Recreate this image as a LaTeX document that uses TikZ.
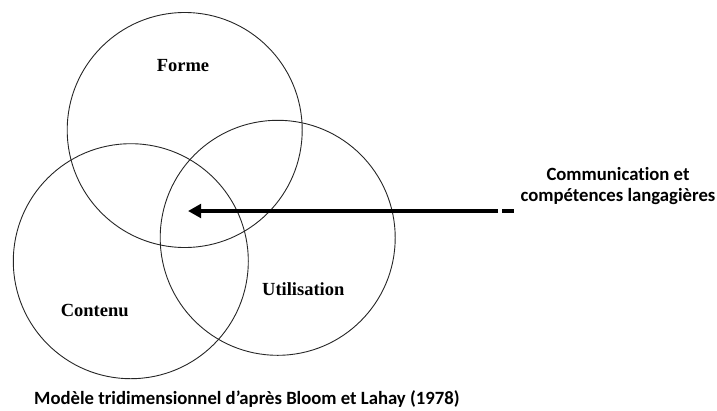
\documentclass[tikz,border=0pt]{standalone}
\usepackage{fontspec}
\setmainfont{Liberation Serif}
\newfontfamily\calib[Ligatures=NoCommon]{Carlito}
\usetikzlibrary{arrows.meta}
\begin{document}
\begin{tikzpicture}[x=1pt,y=-1pt,
  ring/.style={draw=black!85,line width=0.9pt,circle,minimum size=235pt,inner sep=0pt},
  lbl/.style={font=\fontsize{18.5}{22}\selectfont\bfseries,anchor=base,inner sep=0pt},
  side/.style={font=\calib\fontsize{18.7}{21.3}\selectfont\bfseries,align=center,inner sep=0pt},
  bigarrow/.style={line width=4.6pt,-{Triangle[length=13pt,width=13.5pt]}}]
\useasboundingbox (0,0) rectangle (717,410);
\node[ring] (forme) at (184.7,130) {};
\node[ring] (contenu) at (130.8,261.2) {};
\node[ring] (util) at (277.7,237.8) {};
\node[lbl] (tforme) at (183,71) {Forme};
\node[lbl] (tcont) at (94.7,316.7) {Contenu};
\node[lbl] (tutil) at (303.3,295.7) {Utilisation};
\coordinate (tip) at (188,211);
\coordinate (tail) at (498,211);
\coordinate (d1) at (502,211);
\coordinate (d2) at (513.5,211);
\draw[bigarrow] (tail) -- (tip);
\draw[line width=4.6pt] (d1) -- (d2);
\node[side,anchor=base] (comm) at (618,201.5) {Communication et\\compétences langagières};
\node[font=\calib\fontsize{18.7}{22}\selectfont\bfseries,anchor=base west,inner sep=0pt] (cap) at (34,404.5) {Modèle tridimensionnel d’après Bloom et Lahay (1978)};
\end{tikzpicture}
\end{document}
